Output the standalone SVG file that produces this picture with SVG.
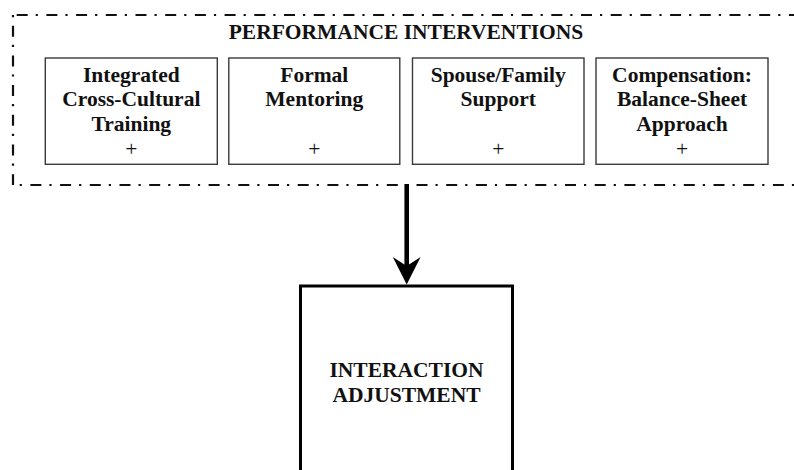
<svg xmlns="http://www.w3.org/2000/svg" width="794" height="470" viewBox="0 0 794 470">
  <style>
    .bg { fill: #ffffff; }
    .frame { fill: none; stroke: #111111; stroke-width: 2.2; stroke-dasharray: 11 8 2.2 8.5; }
    .card { fill: #ffffff; stroke: #3a3a3a; stroke-width: 1.4; }
    .outcome { fill: #ffffff; stroke: #000000; stroke-width: 3; }
    .lbl { font-family: "Liberation Serif", "Times New Roman", serif; font-weight: bold; font-size: 21.5px; fill: #111111; text-anchor: middle; }
    .plus { font-family: "Liberation Serif", "Times New Roman", serif; font-weight: normal; font-size: 21.5px; fill: #111111; text-anchor: middle; }
    .shaft { stroke: #000000; stroke-width: 4.6; fill: none; }
  </style>

  <rect class="bg" x="0" y="0" width="794" height="470"/>

  <!-- dash-dot frame around the intervention group -->
  <g id="interventions-frame">
    <line class="frame" x1="13" y1="15" x2="800" y2="15" stroke-dashoffset="26"/>
    <line class="frame" x1="13" y1="15" x2="13" y2="185" stroke-dashoffset="19"/>
    <line class="frame" x1="13" y1="185" x2="800" y2="185" stroke-dashoffset="12.3"/>
    <text class="lbl" x="406" y="39">PERFORMANCE INTERVENTIONS</text>
  </g>

  <g id="cross-cultural-training">
    <rect class="card" x="45.3" y="58" width="172" height="106.3"/>
    <text class="lbl" x="131.3" y="82">Integrated</text>
    <text class="lbl" x="131.3" y="106">Cross-Cultural</text>
    <text class="lbl" x="131.3" y="130.5">Training</text>
    <text class="plus" x="131.3" y="155.5">+</text>
  </g>

  <g id="formal-mentoring">
    <rect class="card" x="228.8" y="58" width="171" height="106.3"/>
    <text class="lbl" x="314.3" y="82">Formal</text>
    <text class="lbl" x="314.3" y="106">Mentoring</text>
    <text class="plus" x="314.3" y="155.5">+</text>
  </g>

  <g id="spouse-family-support">
    <rect class="card" x="412.5" y="58" width="171.5" height="106.3"/>
    <text class="lbl" x="498.2" y="82">Spouse/Family</text>
    <text class="lbl" x="498.2" y="106">Support</text>
    <text class="plus" x="498.2" y="155.5">+</text>
  </g>

  <g id="compensation">
    <rect class="card" x="596" y="58" width="172" height="106.3"/>
    <text class="lbl" x="682" y="82">Compensation:</text>
    <text class="lbl" x="682" y="106">Balance-Sheet</text>
    <text class="lbl" x="682" y="130.5">Approach</text>
    <text class="plus" x="682" y="155.5">+</text>
  </g>

  <g id="interaction-adjustment">
    <rect class="outcome" x="300.5" y="286" width="212" height="200"/>
    <text class="lbl" x="406.5" y="376.7">INTERACTION</text>
    <text class="lbl" x="406.5" y="401.7">ADJUSTMENT</text>
  </g>

  <g id="connectors">
    <line class="shaft" x1="406.7" y1="184" x2="406.7" y2="268"/>
    <polygon points="406.7,284.5 392.8,257 406.7,266 420.6,257" fill="#000000"/>
  </g>
</svg>
